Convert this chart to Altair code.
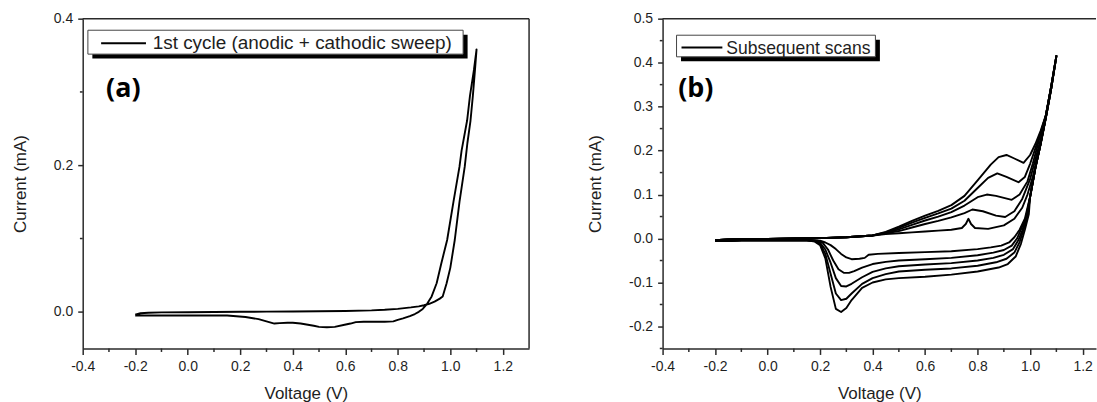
import altair as alt
import pandas as pd

# ---------------- Panel (a): 1st cycle (anodic + cathodic sweep) ----------------
a_volt = [-0.2, -0.18, -0.15, -0.1, 0.0, 0.1, 0.2, 0.3, 0.4, 0.5,
          0.6, 0.7, 0.75, 0.8, 0.85, 0.88, 0.9, 0.92, 0.94, 0.96,
          0.971, 0.986, 1.0, 1.017, 1.035, 1.055, 1.065, 1.077, 1.086, 1.094, 1.1,
          1.09, 1.075, 1.064, 1.043, 1.035, 1.012, 0.988, 0.965, 0.948, 0.929,
          0.91, 0.895, 0.88, 0.865, 0.846, 0.82, 0.8, 0.783, 0.75, 0.72,
          0.67, 0.64, 0.62, 0.593, 0.56, 0.53, 0.5, 0.48, 0.43, 0.4,
          0.38, 0.35, 0.33, 0.3, 0.27, 0.22, 0.15, 0.1, 0.0, -0.1, -0.15, -0.2]
a_curr = [-0.004, -0.002, -0.0012, -0.0008, -0.0005, -0.0002, 0.0, 0.0002, 0.0005, 0.0008,
          0.0012, 0.002, 0.0028, 0.004, 0.006, 0.0075, 0.009, 0.011, 0.014, 0.018,
          0.021, 0.039, 0.06, 0.098, 0.15, 0.198, 0.23, 0.261, 0.295, 0.33, 0.358,
          0.33, 0.295, 0.261, 0.22, 0.198, 0.15, 0.098, 0.065, 0.039, 0.021,
          0.01, 0.004, 0.0, -0.003, -0.006, -0.009, -0.011, -0.013, -0.0135, -0.0135,
          -0.0135, -0.014, -0.016, -0.018, -0.0205, -0.021, -0.0205, -0.019, -0.016, -0.015,
          -0.015, -0.0155, -0.016, -0.013, -0.01, -0.007, -0.005, -0.005, -0.005, -0.005, -0.005, -0.005]

# ---------------- Panel (b): subsequent scans ----------------
b_start_volt = [-0.2, -0.15, -0.1, 0.0, 0.1, 0.2, 0.3, 0.4]
b_start_curr = [-0.004, -0.002, -0.0015, -0.001, 0.0, 0.001, 0.003, 0.007]

u1_volt = [0.45, 0.5, 0.55, 0.6, 0.65, 0.7, 0.74, 0.755, 0.765, 0.775, 0.79, 0.84, 0.9, 0.94, 0.97, 0.99, 1.01, 1.03, 1.045]
u1_curr = [0.01, 0.012, 0.014, 0.016, 0.018, 0.02, 0.024, 0.033, 0.045, 0.033, 0.024, 0.022, 0.03, 0.045, 0.07, 0.10, 0.14, 0.19, 0.235]
u2_volt = [0.45, 0.5, 0.55, 0.6, 0.65, 0.7, 0.75, 0.78, 0.82, 0.87, 0.905, 0.94, 0.97, 1.0, 1.02, 1.04]
u2_curr = [0.012, 0.017, 0.025, 0.033, 0.04, 0.048, 0.058, 0.066, 0.062, 0.052, 0.049, 0.062, 0.09, 0.135, 0.18, 0.225]
u3_volt = [0.45, 0.5, 0.55, 0.6, 0.65, 0.7, 0.75, 0.8, 0.835, 0.87, 0.93, 0.96, 0.99, 1.01, 1.03, 1.045]
u3_curr = [0.013, 0.021, 0.031, 0.041, 0.05, 0.06, 0.075, 0.094, 0.1, 0.097, 0.088, 0.1, 0.13, 0.17, 0.215, 0.25]
u4_volt = [0.45, 0.5, 0.55, 0.6, 0.65, 0.7, 0.75, 0.8, 0.84, 0.875, 0.91, 0.956, 0.98, 1.0, 1.02, 1.04]
u4_curr = [0.014, 0.024, 0.036, 0.047, 0.057, 0.068, 0.086, 0.115, 0.138, 0.148, 0.14, 0.128, 0.14, 0.17, 0.205, 0.24]
u5_volt = [0.45, 0.5, 0.55, 0.6, 0.65, 0.7, 0.75, 0.8, 0.85, 0.88, 0.91, 0.94, 0.975, 1.0, 1.02, 1.04]
u5_curr = [0.015, 0.027, 0.04, 0.052, 0.063, 0.076, 0.097, 0.132, 0.168, 0.185, 0.19, 0.182, 0.172, 0.19, 0.215, 0.245]

b_tail_volt = [1.06, 1.08, 1.1]
b_tail_curr = [0.28, 0.345, 0.415]

b_head_volt = [1.08, 1.06, 1.04, 1.02, 1.0]
b_head_curr = [0.34, 0.275, 0.215, 0.16, 0.095]

l1_volt = [0.98, 0.96, 0.94, 0.92, 0.89, 0.85, 0.8, 0.7, 0.6, 0.5, 0.42, 0.385, 0.37, 0.35, 0.32, 0.3, 0.28, 0.26, 0.24, 0.22, 0.2, 0.15, 0.1]
l1_curr = [0.045, 0.02, 0.003, -0.009, -0.016, -0.02, -0.024, -0.029, -0.031, -0.033, -0.035, -0.037, -0.044, -0.046, -0.047, -0.043, -0.035, -0.024, -0.015, -0.009, -0.005, -0.004, -0.004]
l2_volt = [0.985, 0.965, 0.95, 0.93, 0.9, 0.86, 0.8, 0.7, 0.6, 0.5, 0.45, 0.4, 0.36, 0.33, 0.31, 0.29, 0.27, 0.25, 0.23, 0.21, 0.19, 0.15, 0.1]
l2_curr = [0.05, 0.02, 0.0, -0.016, -0.026, -0.032, -0.038, -0.044, -0.047, -0.05, -0.053, -0.058, -0.066, -0.074, -0.078, -0.078, -0.07, -0.05, -0.025, -0.01, -0.005, -0.004, -0.004]
l3_volt = [0.99, 0.97, 0.955, 0.935, 0.9, 0.86, 0.8, 0.7, 0.6, 0.5, 0.45, 0.4, 0.36, 0.32, 0.3, 0.28, 0.26, 0.24, 0.22, 0.2, 0.18, 0.15, 0.1]
l3_curr = [0.055, 0.018, -0.004, -0.024, -0.037, -0.044, -0.05, -0.056, -0.059, -0.063, -0.068, -0.076, -0.088, -0.103, -0.109, -0.108, -0.09, -0.055, -0.025, -0.01, -0.005, -0.004, -0.004]
l4_volt = [0.99, 0.975, 0.96, 0.94, 0.91, 0.87, 0.8, 0.7, 0.6, 0.5, 0.45, 0.4, 0.36, 0.32, 0.3, 0.28, 0.26, 0.24, 0.22, 0.2, 0.18, 0.15, 0.1]
l4_curr = [0.05, 0.02, -0.008, -0.032, -0.046, -0.054, -0.062, -0.068, -0.071, -0.075, -0.081, -0.09, -0.103, -0.125, -0.137, -0.14, -0.125, -0.08, -0.035, -0.012, -0.006, -0.004, -0.004]
l5_volt = [0.995, 0.98, 0.965, 0.945, 0.915, 0.88, 0.8, 0.7, 0.6, 0.5, 0.45, 0.4, 0.36, 0.32, 0.3, 0.28, 0.26, 0.24, 0.22, 0.2, 0.18, 0.15, 0.1]
l5_curr = [0.055, 0.02, -0.012, -0.041, -0.058, -0.066, -0.075, -0.082, -0.087, -0.09, -0.093, -0.1, -0.112, -0.14, -0.158, -0.167, -0.16, -0.11, -0.045, -0.015, -0.007, -0.004, -0.004]

b_end_volt = [0.05, 0.0, -0.1, -0.15, -0.2]
b_end_curr = [-0.004, -0.004, -0.004, -0.005, -0.005]

# ---------------- ticks & labels ----------------
x_major = [-0.4, -0.2, 0.0, 0.2, 0.4, 0.6, 0.8, 1.0, 1.2]
x_minor = [-0.3, -0.1, 0.1, 0.3, 0.5, 0.7, 0.9, 1.1]
ya_major = [0.0, 0.2, 0.4]
ya_minor = [0.1, 0.3]
yb_major = [-0.2, -0.1, 0.0, 0.1, 0.2, 0.3, 0.4, 0.5]
yb_minor = [-0.25, -0.15, -0.05, 0.05, 0.15, 0.25, 0.35, 0.45]

legend_a = "1st cycle (anodic + cathodic sweep)"
legend_b = "Subsequent scans"
tag_a = "(a)"
tag_b = "(b)"
x_title = "Voltage (V)"
y_title = "Current (mA)"

# ---------------- build tables ----------------
df_a = pd.DataFrame({"v": a_volt, "i": a_curr})
df_a["k"] = range(len(df_a))

ups = [(u1_volt, u1_curr), (u2_volt, u2_curr), (u3_volt, u3_curr), (u4_volt, u4_curr), (u5_volt, u5_curr)]
downs = [(l1_volt, l1_curr), (l2_volt, l2_curr), (l3_volt, l3_curr), (l4_volt, l4_curr), (l5_volt, l5_curr)]
rows = []
for c, ((uv, ui), (lv, li)) in enumerate(zip(ups, downs)):
    vv = b_start_volt + uv + b_tail_volt + b_head_volt + lv + b_end_volt
    ii = b_start_curr + ui + b_tail_curr + b_head_curr + li + b_end_curr
    for k, (v, i) in enumerate(zip(vv, ii)):
        rows.append({"cycle": c, "k": k, "v": v, "i": i})
df_b = pd.DataFrame(rows)

FONT = "Liberation Sans"
AX = "#2a2a2a"
TXT = "#1e1e1e"
W_A, W_B, H = 448, 435, 331
XA_DOM = [-0.4, 1.3]
XB_DOM = [-0.4, 1.251]
YA_DOM = [-0.05, 0.4]
YB_DOM = [-0.25, 0.5]

LBL = "(datum.value < -0.001 ? '-' : '') + format(abs(datum.value), '.1f')"


def x_axis():
    return alt.Axis(title=x_title, values=x_major, labelExpr=LBL, grid=False,
                    tickSize=6, tickWidth=1.5, tickColor=AX, domainColor=AX, domainWidth=1.5,
                    labelFont=FONT, labelFontSize=14, labelColor=TXT, labelPadding=5,
                    labelFlush=False, labelOverlap=False,
                    titleFont=FONT, titleFontSize=17, titleFontWeight="normal",
                    titleColor=TXT, titlePadding=12)


def y_axis(vals):
    return alt.Axis(title=y_title, values=vals, labelExpr=LBL, grid=False,
                    tickSize=5, tickWidth=1.5, tickColor=AX, domainColor=AX, domainWidth=1.5,
                    labelFont=FONT, labelFontSize=14, labelColor=TXT, labelPadding=5,
                    labelFlush=False, labelOverlap=False,
                    titleFont=FONT, titleFontSize=17, titleFontWeight="normal",
                    titleColor=TXT, titlePadding=24)


one = pd.DataFrame({"d": [0]})


def panel(df, xdom, ydom, ymaj, ymin, width, legend, tag, box, line_seg, text_pos,
          text_size, tag_pos, right_frame, detail):
    xs = alt.Scale(domain=xdom, nice=False, zero=False)
    ys = alt.Scale(domain=ydom, nice=False, zero=False)
    xa = x_axis()
    ya = y_axis(ymaj)
    enc = dict(x=alt.X("v:Q", scale=xs, axis=xa),
               y=alt.Y("i:Q", scale=ys, axis=ya),
               order=alt.Order("k:Q"))
    if detail:
        enc["detail"] = alt.Detail("cycle:N")
    curve = alt.Chart(df).mark_line(color="black", strokeWidth=1.9,
                                    strokeJoin="round").encode(**enc)

    # minor ticks drawn through the same scales (same field names, same axis spec)
    xminor = alt.Chart(pd.DataFrame({"v": x_minor})).mark_rule(
        color=AX, strokeWidth=1.5).encode(
        x=alt.X("v:Q", scale=xs, axis=xa),
        y=alt.value(H), y2=alt.value(H + 3.5))
    yminor = alt.Chart(pd.DataFrame({"i": ymin})).mark_rule(
        color=AX, strokeWidth=1.5).encode(
        y=alt.Y("i:Q", scale=ys, axis=ya),
        x=alt.value(0), x2=alt.value(-2.8))

    layers = [curve, xminor, yminor]
    top = alt.Chart(one).mark_rule(color=AX, strokeWidth=1.5).encode(
        x=alt.value(0), x2=alt.value(width), y=alt.value(0))
    layers.append(top)
    if right_frame:
        layers.append(alt.Chart(one).mark_rule(color=AX, strokeWidth=1.5).encode(
            x=alt.value(width), y=alt.value(0), y2=alt.value(H)))

    bx0, by0, bx1, by1, sh = box
    shadow = alt.Chart(one).mark_rect(color="black").encode(
        x=alt.value(bx0 + sh), x2=alt.value(bx1 + sh),
        y=alt.value(by0 + sh), y2=alt.value(by1 + sh))
    lbox = alt.Chart(one).mark_rect(fill="white", stroke="#444", strokeWidth=1).encode(
        x=alt.value(bx0), x2=alt.value(bx1), y=alt.value(by0), y2=alt.value(by1))
    lx0, lx1, ly = line_seg
    lline = alt.Chart(one).mark_rule(color="black", strokeWidth=2).encode(
        x=alt.value(lx0), x2=alt.value(lx1), y=alt.value(ly))
    ltext = alt.Chart(one).mark_text(
        text=legend, font=FONT, fontSize=text_size, color=TXT, align="left",
        baseline="alphabetic").encode(x=alt.value(text_pos[0]), y=alt.value(text_pos[1]))
    ttext = alt.Chart(one).mark_text(
        text=tag, font="Open Sans", fontSize=27, fontWeight="bold", color="black",
        align="left", baseline="alphabetic").encode(
        x=alt.value(tag_pos[0]), y=alt.value(tag_pos[1]))
    layers += [shadow, lbox, lline, ltext, ttext]
    return alt.layer(*layers).properties(width=width, height=H)


pa = panel(df_a, XA_DOM, YA_DOM, ya_major, ya_minor, W_A, legend_a, tag_a,
           (5.2, 11.6, 381.8, 35.6, 4.5), (18.5, 63.5, 24.6), (70.2, 30.6), 19,
           (23.5, 78.5), True, False)
pb = panel(df_b, XB_DOM, YB_DOM, yb_major, yb_minor, W_B, legend_b, tag_b,
           (14, 16.6, 213.6, 38.3, 4.5), (19, 60, 29), (64, 35), 17.6,
           (15.7, 78.5), False, True)

chart = alt.hconcat(pa, pb, spacing=56).properties(
    padding={"left": 11, "top": 11, "right": 0, "bottom": 0},
    background="white",
).configure_view(strokeWidth=0)

chart.save("out.html", embed_options={"renderer": "svg", "actions": False})
